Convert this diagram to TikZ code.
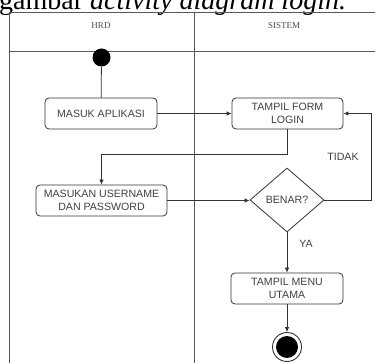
\documentclass[tikz,border=0pt]{standalone}
\usepackage{fontspec}
\setmainfont{Liberation Serif}
\newfontfamily\boxfont{Liberation Sans}
\usetikzlibrary{arrows.meta,shapes.geometric}
\begin{document}
\begin{tikzpicture}[x=1pt,y=-1pt,
  act/.style={draw=black!80, rounded corners=4pt, line width=0.8pt, minimum height=31pt, font=\boxfont\fontsize{10.6}{12.5}\selectfont, text=black!75, align=center, inner sep=0pt},
  flow/.style={draw=black!80, line width=0.8pt, -{Latex[length=5pt,width=4.5pt]}},
  plain/.style={draw=black!80, line width=0.8pt},
  lane/.style={draw=black!65, line width=0.9pt},
  hdr/.style={font=\fontsize{9}{10}\selectfont, text=black!70},
  lbl/.style={font=\boxfont\fontsize{10.6}{12}\selectfont, text=black!75}]
\useasboundingbox (0,0) rectangle (375,363);
\clip (0,0) rectangle (375,363);
% caption (cut off by the picture's top edge, as in the reference)
\node[anchor=base west, font=\fontsize{28}{30}\selectfont, inner sep=0pt] (cap) at (-1,10) {gambar \textit{activity diagram login.}};
% swimlanes
\draw[lane] (9,363) -- (9,12) -- (375,12);
\draw[lane] (9,51) -- (375,51);
\draw[lane] (194,12) -- (194,363);
\node[hdr] (hrd) at (101,26) {HRD};
\node[hdr] (sis) at (284,26) {SISTEM};
% nodes
\node[circle, fill=black, minimum size=18pt, inner sep=0pt] (start) at (101.5,57.5) {};
\node[act, minimum width=112pt] (m1) at (101,113.5) {MASUK APLIKASI};
\node[act, minimum width=111pt] (login) at (287.5,113.5) {TAMPIL FORM\\LOGIN};
\node[act, minimum width=131pt] (up) at (101.5,200.5) {MASUKAN USERNAME\\DAN PASSWORD};
\node[diamond, draw=black!80, line width=0.8pt, minimum width=74pt, minimum height=64pt, inner sep=0pt, font=\boxfont\fontsize{10.6}{12}\selectfont, text=black!75] (cek) at (287,200) {BENAR?};
\node[act, minimum width=112pt] (menu) at (287,288.5) {TAMPIL MENU\\UTAMA};
\node[circle, draw=black!80, line width=0.9pt, minimum size=29pt, inner sep=0pt] (end) at (287,347) {};
\node[circle, fill=black, minimum size=22pt, inner sep=0pt] (endin) at (end) {};
% connectors
\coordinate (bend) at (371,200);
\draw[plain] (start) -- (m1);
\draw[flow] (m1) -- (login);
\draw[flow] (login.south) -- ++(0,25) -| (up.north);
\draw[flow] (up.east) -- (up.east -| cek.west);
\draw[flow] (cek.east) -- (bend) |- (login.east);
\draw[flow] (cek) -- (menu);
\draw[flow] (menu) -- (end);
\node[lbl] (tidak) at (343,157) {TIDAK};
\node[lbl] (ya) at (306,244) {YA};
\end{tikzpicture}
\end{document}
